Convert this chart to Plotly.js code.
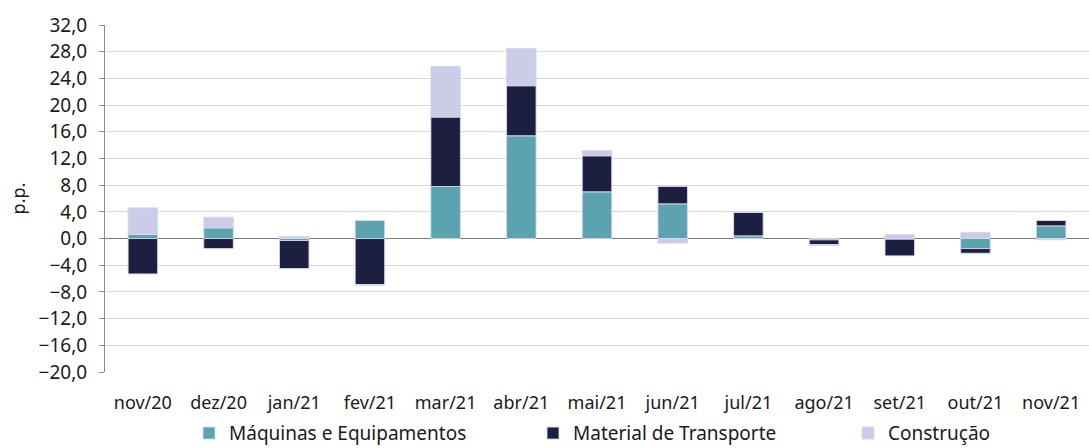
<!DOCTYPE html>
<html>
<head>
<meta charset="utf-8">
<script src="https://cdn.plot.ly/plotly-3.0.1.min.js"></script>
<style>
html,body{margin:0;padding:0;background:#fff;}
#chart{width:1089px;height:448px;}
</style>
</head>
<body>
<div id="chart"></div>
<script>
const categories = ['nov/20','dez/20','jan/21','fev/21','mar/21','abr/21','mai/21','jun/21','jul/21','ago/21','set/21','out/21','nov/21'];
const maquinas   = [0.6, 1.6, -0.3, 2.7, 7.8, 15.4, 7.0, 5.2, 0.4, -0.2, -0.1, -1.5, 1.9];
const transporte = [-5.3, -1.5, -4.2, -6.9, 10.4, 7.5, 5.4, 2.6, 3.5, -0.7, -2.5, -0.7, 0.8];
const construcao = [4.0, 1.6, 0.3, -0.1, 7.6, 5.6, 0.8, -0.7, 0.0, -0.15, 0.6, 0.9, -0.2];
const seriesNames = ['Máquinas e Equipamentos','Material de Transporte','Construção'];

const FONT = 'Noto Sans, Open Sans, sans-serif';
const lineStyle = {color:'rgba(215,216,235,0.9)', width:1};

const traces = [
  {type:'bar', name:seriesNames[0], x:categories, y:maquinas, marker:{color:'#5BA3AE', line:lineStyle}, legend:'legend'},
  {type:'bar', name:seriesNames[1], x:categories, y:transporte, marker:{color:'#1C1F3F', line:lineStyle}, legend:'legend2'},
  {type:'bar', name:seriesNames[2], x:categories, y:construcao, marker:{color:'#CBCCE8', line:lineStyle}, legend:'legend3'}
];

function legendAt(xc){
  return {orientation:'h', xref:'container', yref:'container', x:xc, xanchor:'left', y:0.033, yanchor:'middle',
          font:{family:FONT, size:19, color:'#1a1a1a'}, bgcolor:'rgba(0,0,0,0)',
          itemclick:false, itemdoubleclick:false};
}

const layout = {
  width:1089, height:448,
  margin:{l:105, r:0, t:25, b:76, pad:0},
  paper_bgcolor:'#ffffff', plot_bgcolor:'#ffffff',
  barmode:'relative', bargap:0.61,
  separators:',.',
  font:{family:FONT, color:'#1a1a1a'},
  showlegend:true,
  legend:legendAt(189/1089),
  legend2:legendAt(533/1089),
  legend3:legendAt(848/1089),
  xaxis:{type:'category', range:[-0.5,12.5], showgrid:false, showline:false, zeroline:false,
         ticks:'', tickfont:{family:FONT, size:18, color:'#1a1a1a'}, ticklabelstandoff:18, fixedrange:true},
  yaxis:{range:[-20,32], tick0:0, dtick:4, tickformat:'.1f',
         showgrid:true, gridcolor:'#d9d9d9', gridwidth:1,
         zeroline:true, zerolinecolor:'#7a7a7a', zerolinewidth:1.5,
         showline:true, linecolor:'#8c8c8c', linewidth:1,
         ticks:'outside', ticklen:5, tickcolor:'#8c8c8c',
         tickfont:{family:FONT, size:19, color:'#1a1a1a'}, ticklabelstandoff:8,
         title:{text:'p.p.', font:{family:FONT, size:18, color:'#1a1a1a'}, standoff:8},
         automargin:false, fixedrange:true}
};

Plotly.newPlot('chart', traces, layout, {displayModeBar:false, staticPlot:true});
</script>
</body>
</html>
